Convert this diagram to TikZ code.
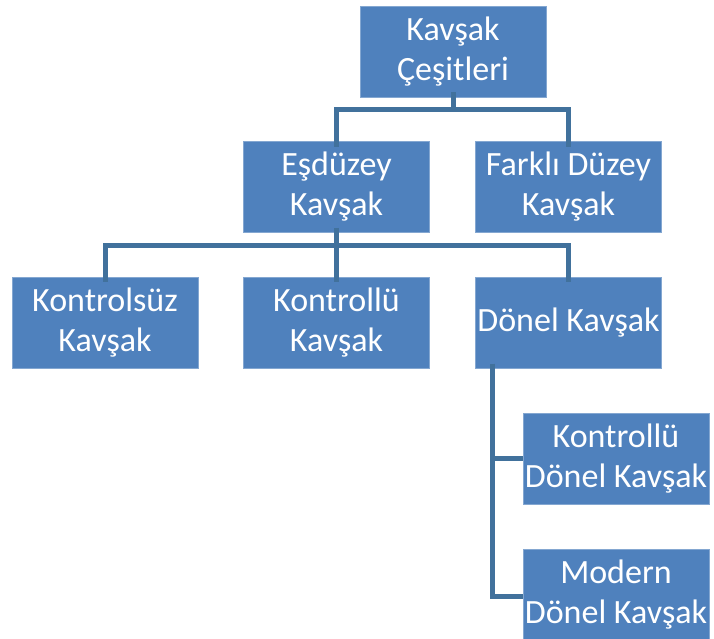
\documentclass[tikz,border=0pt]{standalone}
\usepackage{fontspec}
\setmainfont{Carlito}
\definecolor{boxblue}{HTML}{4F81BD}
\definecolor{linkblue}{HTML}{41719C}
\begin{document}
\begin{tikzpicture}[x=1pt,y=-1pt,
  cbox/.style={fill=boxblue, draw=boxblue!70!white, line width=0.6pt, minimum width=186pt, minimum height=91pt,
    inner sep=0pt, align=center, text=white, font=\fontsize{34}{40}\selectfont},
  link/.style={draw=linkblue, line width=5pt}]
\useasboundingbox (0,0) rectangle (714,639);
\node[cbox] (top) at (453,51.5) {Kavşak\\Çeşitleri};
\node[cbox] (esd) at (336.5,187) {Eşdüzey\\Kavşak};
\node[cbox] (fark) at (568.5,187) {Farklı Düzey\\Kavşak};
\node[cbox] (kontrolsuz) at (105,323) {Kontrolsüz\\Kavşak};
\node[cbox] (kontrollu) at (336.5,323) {Kontrollü\\Kavşak};
\node[cbox] (donel) at (568.5,323) {Dönel Kavşak};
\node[cbox] (kdonel) at (616,458.5) {Kontrollü\\Dönel Kavşak};
\node[cbox] (modern) at (616,595) {Modern\\Dönel Kavşak};
% level 1 -> 2
\draw[link] ([yshift=5pt]top.south) -- ++(0,17) -| ([yshift=-6pt]esd.north);
\draw[link] ([yshift=5pt]top.south) ++(0,17) -| ([yshift=-6pt]fark.north);
% level 2 -> 3
\draw[link] ([yshift=5pt]esd.south) -- ++(0,18) -| ([yshift=-5pt]kontrolsuz.north);
\draw[link] ([yshift=5pt]esd.south) ++(0,18) -- ([yshift=-5pt]kontrollu.north);
\draw[link] ([yshift=5pt]esd.south) ++(0,18) -| ([yshift=-5pt]donel.north);
% donel -> children
\draw[link] ([xshift=-76pt,yshift=5pt]donel.south) |- (kdonel.west);
\draw[link] ([xshift=-76pt,yshift=5pt]donel.south) |- ([yshift=-1pt]modern.west);
\end{tikzpicture}
\end{document}
